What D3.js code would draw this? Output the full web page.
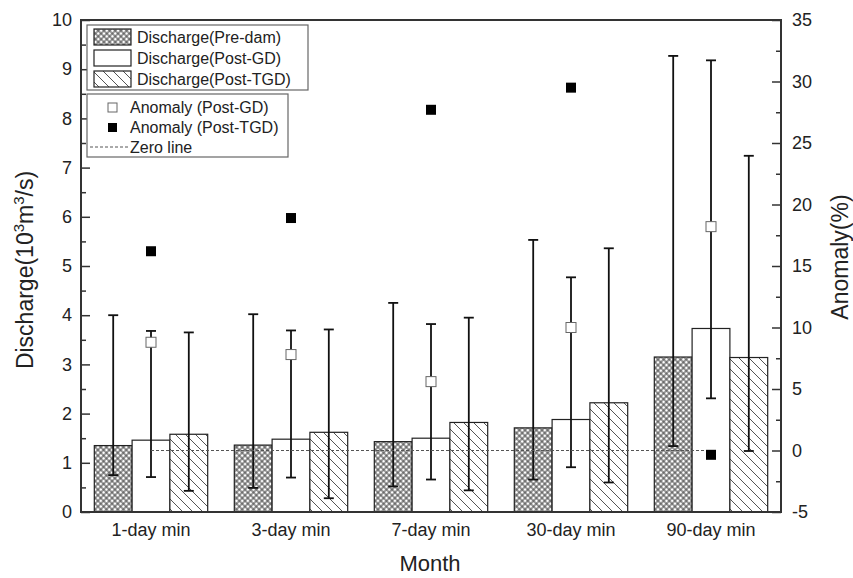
<!DOCTYPE html>
<html>
<head>
<meta charset="utf-8">
<script src="https://cdn.jsdelivr.net/npm/d3@7"></script>
<style>
  body { margin: 0; background: #fff; }
  text { font-family: "Liberation Sans", Arial, sans-serif; fill: #222; }
</style>
</head>
<body>
<div id="chart"></div>
<script>
// categories and values
var categories = ["1-day min", "3-day min", "7-day min", "30-day min", "90-day min"];
var seriesNames = ["Discharge(Pre-dam)", "Discharge(Post-GD)", "Discharge(Post-TGD)"];

var preDam      = [1.35, 1.36, 1.43, 1.71, 3.15];
var preDamLow   = [0.75, 0.49, 0.52, 0.66, 1.34];
var preDamHigh  = [4.00, 4.02, 4.25, 5.53, 9.27];

var postGD      = [1.46, 1.48, 1.50, 1.88, 3.73];
var postGDLow   = [0.71, 0.70, 0.66, 0.91, 2.31];
var postGDHigh  = [3.68, 3.69, 3.82, 4.77, 9.18];

var postTGD     = [1.58, 1.62, 1.82, 2.22, 3.14];
var postTGDLow  = [0.43, 0.28, 0.44, 0.60, 1.24];
var postTGDHigh = [3.65, 3.71, 3.95, 5.36, 7.24];

var anomalyGD  = [8.8, 7.8, 5.6, 10.0, 18.2];
var anomalyTGD = [16.2, 18.9, 27.7, 29.5, -0.35];

var leftTicks  = [0, 1, 2, 3, 4, 5, 6, 7, 8, 9, 10];
var rightTicks = [-5, 0, 5, 10, 15, 20, 25, 30, 35];

// dimensions
var margin = {top: 20, right: 72, bottom: 66, left: 81},
    width = 853 - margin.left - margin.right,
    height = 578 - margin.top - margin.bottom;

var svg = d3.select("#chart").append("svg")
    .attr("width", 853)
    .attr("height", 578);

// fill patterns
var defs = svg.append("defs");
var cross = defs.append("pattern")
    .attr("id", "cross")
    .attr("patternUnits", "userSpaceOnUse")
    .attr("patternTransform", "rotate(45)")
    .attr("width", 4).attr("height", 4);
cross.append("rect").attr("width", 4).attr("height", 4).attr("fill", "#6a6a6a");
cross.append("circle").attr("cx", 2).attr("cy", 2).attr("r", 1.5).attr("fill", "#fff");

var hatch = defs.append("pattern")
    .attr("id", "hatch")
    .attr("patternUnits", "userSpaceOnUse")
    .attr("width", 10).attr("height", 10);
hatch.append("rect").attr("width", 10).attr("height", 10).attr("fill", "#fff");
hatch.append("path")
    .attr("d", "M-5,-5L15,15M-5,5L5,15M5,-5L15,5")
    .attr("stroke", "#555").attr("stroke-width", 1);

var fills = ["url(#cross)", "#fff", "url(#hatch)"];

var g = svg.append("g")
    .attr("transform", "translate(" + margin.left + "," + margin.top + ")");

// scales
var x0 = d3.scaleBand().domain(categories).range([0, width]).padding(0);
var groupW = x0.bandwidth() * 0.81;
var x1 = d3.scaleBand().domain(seriesNames)
    .range([(x0.bandwidth() - groupW) / 2, (x0.bandwidth() + groupW) / 2]);
var y = d3.scaleLinear().domain([0, 10]).range([height, 0]);
var y2 = d3.scaleLinear().domain([-5, 35]).range([height, 0]);

var series = [
  {name: seriesNames[0], v: preDam, lo: preDamLow, hi: preDamHigh, fill: fills[0]},
  {name: seriesNames[1], v: postGD, lo: postGDLow, hi: postGDHigh, fill: fills[1]},
  {name: seriesNames[2], v: postTGD, lo: postTGDLow, hi: postTGDHigh, fill: fills[2]}
];

// bars
series.forEach(function(s) {
  g.selectAll(null).data(categories).enter().append("rect")
      .attr("x", function(c) { return x0(c) + x1(s.name); })
      .attr("y", function(c, i) { return y(s.v[i]); })
      .attr("width", x1.bandwidth())
      .attr("height", function(c, i) { return height - y(s.v[i]); })
      .attr("fill", s.fill)
      .attr("stroke", "#222")
      .attr("stroke-width", 1.2);
});

// error bars
series.forEach(function(s) {
  var cx = function(c) { return x0(c) + x1(s.name) + x1.bandwidth() / 2; };
  g.selectAll(null).data(categories).enter().append("line")
      .attr("x1", cx).attr("x2", cx)
      .attr("y1", function(c, i) { return y(s.lo[i]); })
      .attr("y2", function(c, i) { return y(s.hi[i]); })
      .attr("stroke", "#111").attr("stroke-width", 1.8);
  ["lo", "hi"].forEach(function(k) {
    g.selectAll(null).data(categories).enter().append("line")
        .attr("x1", function(c) { return cx(c) - 5; })
        .attr("x2", function(c) { return cx(c) + 5; })
        .attr("y1", function(c, i) { return y(s[k][i]); })
        .attr("y2", function(c, i) { return y(s[k][i]); })
        .attr("stroke", "#111").attr("stroke-width", 1.8);
  });
});

// zero line of anomaly
var xc = function(c) { return x0(c) + x0.bandwidth() / 2; };
g.append("line")
    .attr("x1", xc(categories[0])).attr("x2", xc(categories[categories.length - 1]))
    .attr("y1", y2(0)).attr("y2", y2(0))
    .attr("stroke", "#555").attr("stroke-width", 1)
    .attr("stroke-dasharray", "3,2");

// anomaly points
g.selectAll(null).data(categories).enter().append("rect")
    .attr("x", function(c) { return xc(c) - 5; })
    .attr("y", function(c, i) { return y2(anomalyGD[i]) - 5; })
    .attr("width", 10).attr("height", 10)
    .attr("fill", "#fff").attr("stroke", "#666").attr("stroke-width", 1);
g.selectAll(null).data(categories).enter().append("rect")
    .attr("x", function(c) { return xc(c) - 5; })
    .attr("y", function(c, i) { return y2(anomalyTGD[i]) - 5; })
    .attr("width", 10).attr("height", 10)
    .attr("fill", "#000");

// axes
var plain = function(d) { return String(d); };
var axisL = g.append("g")
    .call(d3.axisLeft(y).tickValues(leftTicks).tickSize(-9).tickPadding(9).tickFormat(plain));
g.append("g")
    .call(d3.axisLeft(y).tickValues(d3.range(0.5, 10, 1)).tickSize(-5).tickFormat(""))
    .select(".domain").remove();
var axisR = g.append("g")
    .attr("transform", "translate(" + width + ",0)")
    .call(d3.axisRight(y2).tickValues(rightTicks).tickSize(-9).tickPadding(11).tickFormat(plain));
g.append("g")
    .attr("transform", "translate(" + width + ",0)")
    .call(d3.axisRight(y2).tickValues(d3.range(-2.5, 35, 5)).tickSize(-5).tickFormat(""))
    .select(".domain").remove();
var axisB = g.append("g")
    .attr("transform", "translate(0," + height + ")")
    .call(d3.axisBottom(x0).tickSize(0).tickPadding(11));

[axisL, axisR, axisB].forEach(function(a) {
  a.selectAll("text").attr("font-size", 18).attr("fill", "#222")
      .attr("font-family", "Liberation Sans, Arial, sans-serif");
});
g.selectAll(".tick line").attr("stroke", "#333").attr("stroke-width", 1.5);
g.selectAll(".domain").remove();

// frame
g.append("rect")
    .attr("width", width).attr("height", height)
    .attr("fill", "none").attr("stroke", "#333").attr("stroke-width", 2);

// axis titles
svg.append("text")
    .attr("x", margin.left + width / 2 - 1).attr("y", 571)
    .attr("text-anchor", "middle").attr("font-size", 22)
    .text("Month");

var lt = svg.append("text")
    .attr("transform", "translate(33,270) rotate(-90)")
    .attr("text-anchor", "middle").attr("font-size", 23);
lt.append("tspan").text("Discharge(10");
lt.append("tspan").attr("font-size", 15).attr("dy", -9).text("3");
lt.append("tspan").attr("dy", 9).text("m");
lt.append("tspan").attr("font-size", 15).attr("dy", -9).text("3");
lt.append("tspan").attr("dy", 9).text("/s)");

svg.append("text")
    .attr("transform", "translate(848,257) rotate(-90)")
    .attr("text-anchor", "middle").attr("font-size", 23)
    .text("Anomaly(%)");

// legend 1: bars
var leg1 = svg.append("g").attr("transform", "translate(87,25)");
leg1.append("rect").attr("width", 221).attr("height", 65)
    .attr("fill", "#fff").attr("stroke", "#666").attr("stroke-width", 1.2);
series.forEach(function(s, i) {
  leg1.append("rect")
      .attr("x", 7).attr("y", 4 + i * 21).attr("width", 37).attr("height", 16)
      .attr("fill", s.fill).attr("stroke", "#222").attr("stroke-width", 1.2);
  leg1.append("text")
      .attr("x", 50).attr("y", 18 + i * 21)
      .attr("font-size", 16).text(s.name);
});

// legend 2: anomaly
var leg2 = svg.append("g").attr("transform", "translate(87,94)");
leg2.append("rect").attr("width", 201).attr("height", 63)
    .attr("fill", "#fff").attr("stroke", "#666").attr("stroke-width", 1.2);
leg2.append("rect").attr("x", 21).attr("y", 9).attr("width", 9).attr("height", 9)
    .attr("fill", "#fff").attr("stroke", "#666");
leg2.append("text").attr("x", 43).attr("y", 19).attr("font-size", 16).text("Anomaly (Post-GD)");
leg2.append("rect").attr("x", 21).attr("y", 29).attr("width", 9).attr("height", 9)
    .attr("fill", "#000");
leg2.append("text").attr("x", 43).attr("y", 39).attr("font-size", 16).text("Anomaly (Post-TGD)");
leg2.append("line").attr("x1", 3).attr("x2", 41).attr("y1", 53).attr("y2", 53)
    .attr("stroke", "#555").attr("stroke-dasharray", "3,2");
leg2.append("text").attr("x", 43).attr("y", 59).attr("font-size", 16).text("Zero line");
</script>
</body>
</html>
